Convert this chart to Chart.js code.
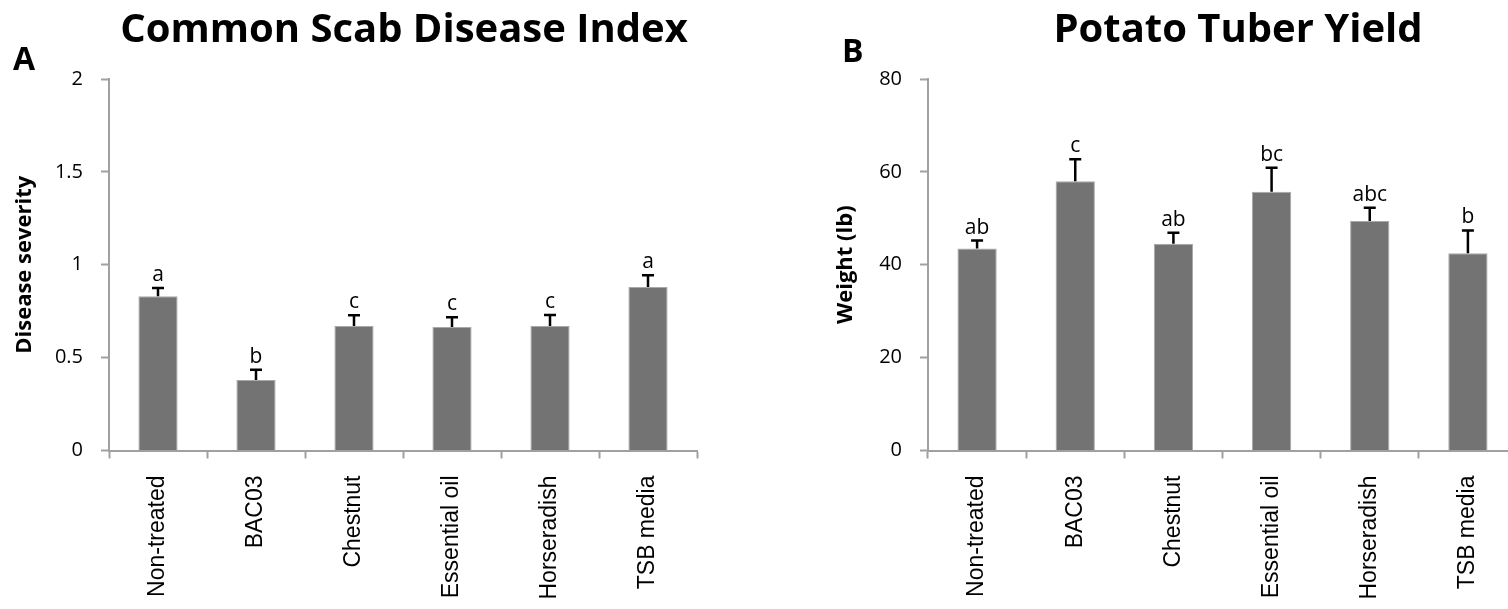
<!DOCTYPE html>
<html>
<head>
<meta charset="utf-8">
<script src="https://cdn.jsdelivr.net/npm/chart.js@4.4.1/dist/chart.umd.min.js"></script>
<style>
  html, body { margin: 0; padding: 0; background: #fff; overflow: hidden; width: 1508px; height: 609px; }
  canvas { position: absolute; top: 0; }
  #scab { left: 0; }
  #yield { left: 830px; }
</style>
</head>
<body>
<canvas id="scab" width="760" height="609"></canvas>
<canvas id="yield" width="700" height="609"></canvas>
<script>
const categories = ["Non-treated", "BAC03", "Chestnut", "Essential oil", "Horseradish", "TSB media"];

// panel A - disease severity
const scabMean = [0.83, 0.38, 0.67, 0.665, 0.67, 0.88];
const scabErr = [0.045, 0.055, 0.058, 0.052, 0.06, 0.063];
const scabLetters = ["a", "b", "c", "c", "c", "a"];
const scabTicks = [0, 0.5, 1, 1.5, 2];

// panel B - tuber weight
const yieldMean = [43.5, 58.0, 44.5, 55.7, 49.4, 42.5];
const yieldErr = [1.7, 4.7, 2.4, 5.2, 2.9, 4.9];
const yieldLetters = ["ab", "c", "ab", "bc", "abc", "b"];
const yieldTicks = [0, 20, 40, 60, 80];

const AXIS_GREY = "#a0a0a0";
const BAR_GREY = "#737373";

Chart.defaults.font.family = "'Open Sans', sans-serif";
Chart.defaults.color = "#000";

// upper error bar with cap + significance letters above it
const errorBars = {
  id: "errorBars",
  afterDatasetsDraw(chart, args, opts) {
    const ctx = chart.ctx;
    const y = chart.scales.y;
    const bars = chart.getDatasetMeta(0).data;
    ctx.save();
    ctx.strokeStyle = "#000";
    ctx.lineWidth = 2.5;
    ctx.fillStyle = "#000";
    ctx.font = "21px 'Open Sans'";
    ctx.textAlign = "center";
    ctx.textBaseline = "alphabetic";
    bars.forEach((bar, i) => {
      const top = y.getPixelForValue(opts.means[i] + opts.errs[i]);
      ctx.beginPath();
      ctx.moveTo(bar.x, bar.y);
      ctx.lineTo(bar.x, top);
      ctx.moveTo(bar.x - 6, top);
      ctx.lineTo(bar.x + 6, top);
      ctx.stroke();
      ctx.fillText(opts.letters[i], bar.x, top - 7);
    });
    ctx.restore();
  },
};

// panel letter and chart title
const panelText = {
  id: "panelText",
  afterDraw(chart, args, opts) {
    const ctx = chart.ctx;
    ctx.save();
    ctx.fillStyle = "#000";
    ctx.textBaseline = "alphabetic";
    ctx.font = "bold 32px 'Open Sans'";
    ctx.textAlign = "left";
    ctx.fillText(opts.letter, opts.lx, opts.ly);
    ctx.font = "bold 40px 'Open Sans'";
    ctx.textAlign = "center";
    ctx.fillText(opts.title, opts.tx, opts.ty);
    ctx.restore();
  },
};

function createBarChart(canvas, cfg) {
  return new Chart(canvas, {
    type: "bar",
    data: {
      labels: categories,
      datasets: [
        {
          data: cfg.means,
          backgroundColor: BAR_GREY,
          borderColor: "#a8a8a8",
          borderWidth: 1,
          barPercentage: 0.4,
          categoryPercentage: 1,
        },
      ],
    },
    options: {
      responsive: false,
      animation: false,
      events: [],
      layout: {
        padding: { top: 79, left: 0, right: cfg.padRight, bottom: 0 },
      },
      scales: {
        x: {
          offset: true,
          grid: {
            offset: true,
            drawOnChartArea: false,
            drawTicks: true,
            tickLength: 8,
            tickWidth: 2,
            tickColor: AXIS_GREY,
          },
          border: { color: AXIS_GREY, width: 2 },
          ticks: {
            minRotation: 90,
            maxRotation: 90,
            padding: 17,
            color: "#000",
            font: { family: "'Liberation Sans'", size: 23 },
          },
          afterFit: (s) => {
            s.height = 158.5;
          },
        },
        y: {
          min: 0,
          max: cfg.ticks[cfg.ticks.length - 1],
          afterBuildTicks: (s) => {
            s.ticks = cfg.ticks.map((v) => ({ value: v }));
          },
          grid: {
            drawOnChartArea: false,
            drawTicks: true,
            tickLength: 8,
            tickWidth: 2,
            tickColor: AXIS_GREY,
          },
          border: { color: AXIS_GREY, width: 2 },
          ticks: {
            padding: 18,
            color: "#000",
            font: { size: 20 },
            callback: (value) => String(value),
          },
          title: {
            display: true,
            text: cfg.yTitle,
            color: "#000",
            font: { size: 22, weight: "bold" },
            padding: { top: cfg.titlePad, bottom: 0 },
          },
          afterFit: (s) => {
            s.width = cfg.yWidth;
          },
        },
      },
      plugins: {
        legend: { display: false },
        tooltip: { enabled: false },
        errorBars: { means: cfg.means, errs: cfg.errs, letters: cfg.letters },
        panelText: cfg.panel,
      },
    },
    plugins: [errorBars, panelText],
  });
}

createBarChart(document.getElementById("scab"), {
  means: scabMean,
  errs: scabErr,
  letters: scabLetters,
  ticks: scabTicks,
  yTitle: "Disease severity",
  yWidth: 109,
  padRight: 63,
  titlePad: 12,
  panel: { letter: "A", lx: 13, ly: 70, title: "Common Scab Disease Index", tx: 404, ty: 42 },
});

createBarChart(document.getElementById("yield"), {
  means: yieldMean,
  errs: yieldErr,
  letters: yieldLetters,
  ticks: yieldTicks,
  yTitle: "Weight (lb)",
  yWidth: 98,
  padRight: 13,
  titlePad: 3,
  panel: { letter: "B", lx: 12, ly: 62, title: "Potato Tuber Yield", tx: 408, ty: 42 },
});
</script>
</body>
</html>
